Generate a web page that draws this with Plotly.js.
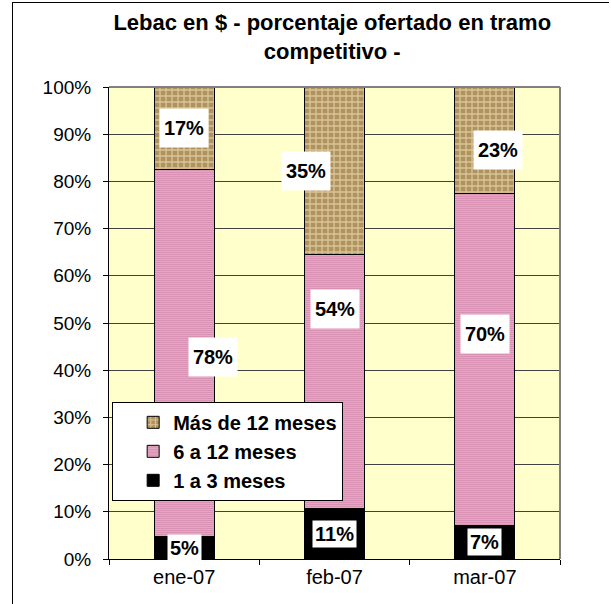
<!DOCTYPE html>
<html>
<head>
<meta charset="utf-8">
<script src="https://cdn.plot.ly/plotly-3.0.1.min.js"></script>
<style>
  html, body { margin: 0; padding: 0; background: #ffffff; }
  #chart { position: absolute; left: 0; top: 0; width: 611px; height: 604px; }
  #frame { position: absolute; left: 12px; top: 2px; width: 596px; height: 700px;
           border-left: 1px solid #000; border-top: 1px solid #000; pointer-events: none; z-index: 10; }
</style>
</head>
<body>
<div id="chart"></div>
<div id="frame"></div>
<script>
// ---- data ----
const categories = ['ene-07', 'feb-07', 'mar-07'];
const seriesNames = ['1 a 3 meses', '6 a 12 meses', 'Más de 12 meses'];
const short = [4.7, 10.6, 7.2];      // 1 a 3 meses
const mid = [77.9, 54.0, 70.2];      // 6 a 12 meses
const long = [17.4, 35.4, 22.6];     // Más de 12 meses
const yTickVals = [0, 10, 20, 30, 40, 50, 60, 70, 80, 90, 100];
const yTickText = ['0%', '10%', '20%', '30%', '40%', '50%', '60%', '70%', '80%', '90%', '100%'];

// label nudges (pixels) for the white data-label boxes, per series per category
const labelShiftX = [[0, 0, 0], [29, 0, 0], [0, -29, 13]];
const labelShiftY = [[0, 0, 0], [-4, 73, 25], [0, 0, -10]];

const series = [short, mid, long];
const FONT = 'Liberation Sans, Arial, sans-serif';

const traces = [
  {
    type: 'bar', name: seriesNames[0], x: categories, y: short,
    marker: { color: '#000000', line: { color: '#000000', width: 1 } },
    width: 0.4, hoverinfo: 'skip'
  },
  {
    type: 'bar', name: seriesNames[1], x: categories, y: mid,
    marker: { color: '#ffffff', line: { color: '#000000', width: 1 },
              pattern: { shape: '.', fgcolor: '#c0407c', bgcolor: '#ffffff', size: 2, solidity: 0.6 } },
    width: 0.4, hoverinfo: 'skip'
  },
  {
    type: 'bar', name: seriesNames[2], x: categories, y: long,
    marker: { color: '#b99c68', line: { color: '#000000', width: 1 },
              pattern: { shape: '+', fgcolor: '#d8c496', bgcolor: '#b0925e', size: 6, solidity: 0.4 } },
    width: 0.4, hoverinfo: 'skip'
  }
];

// data labels at segment centres, computed from the data
const annotations = [];
for (let c = 0; c < categories.length; c++) {
  let base = 0;
  for (let s = 0; s < series.length; s++) {
    const v = series[s][c];
    const a = {
      x: categories[c], y: base + v / 2, xref: 'x', yref: 'y',
      text: Math.round(v) + '%', showarrow: false,
      font: { family: FONT, size: 20, color: '#000000', weight: 'bold' },
      bgcolor: '#ffffff',
      xshift: labelShiftX[s][c], yshift: labelShiftY[s][c]
    };
    if (s === 0) { a.borderpad = 2; } else { a.width = 48; a.height = 38; a.borderpad = 0; }
    annotations.push(a);
    base += v;
  }
}

const layout = {
  width: 611, height: 604,
  margin: { l: 109, r: 51, t: 87, b: 45, pad: 0 },
  paper_bgcolor: '#ffffff',
  plot_bgcolor: '#ffffcc',
  barmode: 'stack',
  bargap: 0.6,
  font: { family: FONT, color: '#000000' },
  title: {
    text: 'Lebac en $ - porcentaje ofertado en tramo<br>competitivo -',
    font: { family: FONT, size: 22, color: '#000000', weight: 'bold' },
    x: 0.495, xanchor: 'center', xref: 'paper',
    y: 1 - 30 / 604, yanchor: 'top', yref: 'container'
  },
  xaxis: {
    type: 'category',
    showline: true, linecolor: '#000000', linewidth: 1,
    ticks: 'outside', tickson: 'boundaries', ticklen: 5, tickcolor: '#000000',
    tickfont: { family: FONT, size: 20, color: '#000000' },
    showgrid: false, zeroline: false, fixedrange: true
  },
  yaxis: {
    range: [0, 100],
    tickvals: yTickVals, ticktext: yTickText,
    showline: true, linecolor: '#000000', linewidth: 1,
    ticks: 'outside', ticklen: 5, tickcolor: '#000000',
    ticklabelstandoff: 8,
    tickfont: { family: FONT, size: 19, color: '#000000' },
    showgrid: true, gridcolor: '#404040', gridwidth: 1,
    zeroline: false, fixedrange: true
  },
  showlegend: true,
  legend: {
    x: 0.007, y: 0.333, xanchor: 'left', yanchor: 'top',
    bgcolor: '#ffffff', bordercolor: '#000000', borderwidth: 1,
    traceorder: 'reversed',
    font: { family: FONT, size: 20, color: '#000000', weight: 'bold' },
    indentation: 20, tracegroupgap: 0
  },
  shapes: [
    { type: 'line', xref: 'paper', yref: 'paper', x0: 1, x1: 1, y0: 0, y1: 1,
      line: { color: '#808080', width: 2 } },
    { type: 'line', xref: 'paper', yref: 'paper', x0: 0, x1: 1, y0: 1, y1: 1,
      line: { color: '#808080', width: 2 } }
  ],
  annotations: annotations
};

Plotly.newPlot('chart', traces, layout, { displayModeBar: false, staticPlot: true });
</script>
</body>
</html>
